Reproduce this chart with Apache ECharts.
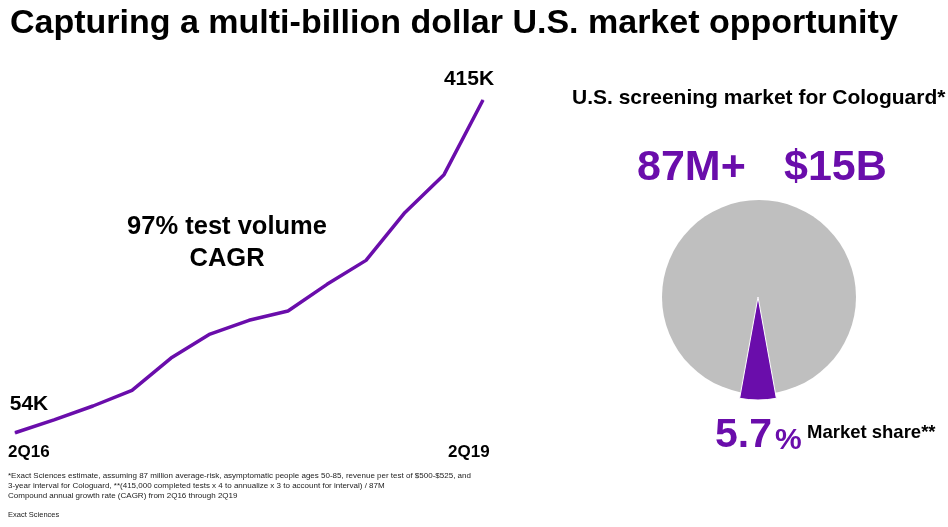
<!DOCTYPE html>
<html><head><meta charset="utf-8">
<script src="https://cdn.jsdelivr.net/npm/echarts@6/dist/echarts.min.js"></script>
<style>html,body{margin:0;padding:0;background:#fff}#c{width:948px;height:527px}</style>
</head><body><div id="c"></div>
<script>
const quarters = ['2Q16','3Q16','4Q16','1Q17','2Q17','3Q17','4Q17','1Q18','2Q18','3Q18','4Q18','1Q19','2Q19'];
const testVolumeK = [54, 68, 83, 100, 135, 161, 176, 186, 215, 241, 293, 334, 415];
const tickLabels = ['2Q16', '2Q19'];
const marketSharePct = 5.7;
const sharePie = [marketSharePct, 100 - marketSharePct];

const PURPLE = '#6a0dab';
const FONT = 'Liberation Sans, Arial, sans-serif';
const chart = echarts.init(document.getElementById('c'));
const lastIdx = testVolumeK.length - 1;

chart.setOption({
  animation: false,
  backgroundColor: '#fff',
  grid: { left: 15, right: 465, top: 100, bottom: 44.5 },
  xAxis: { type: 'category', data: quarters, boundaryGap: false, show: false },
  yAxis: { type: 'value', min: 0, max: 415, show: false },
  series: [
    {
      type: 'line',
      data: testVolumeK.map((v, i) => ({
        value: v,
        label: {
          show: i === 0 || i === lastIdx,
          position: 'top',
          offset: i === 0 ? [14, -13] : [-14, -5],
          formatter: p => p.value + 'K',
          fontFamily: FONT, fontWeight: 'bold', fontSize: 21, color: '#000'
        }
      })),
      symbol: 'circle',
      symbolSize: 1,
      showSymbol: true,
      itemStyle: { color: PURPLE },
      lineStyle: { color: PURPLE, width: 3.5 },
      z: 3
    },
    {
      type: 'pie',
      center: [759, 297],
      radius: [0, 97],
      startAngle: 90,
      silent: true,
      label: { show: false }, labelLine: { show: false },
      data: [{ value: 100, itemStyle: { color: '#bfbfbf' } }],
      z: 1
    },
    {
      type: 'pie',
      center: [758, 297],
      radius: [0, 103],
      startAngle: 270 + sharePie[0] * 3.6 / 2,
      clockwise: true,
      silent: true,
      label: { show: false }, labelLine: { show: false },
      data: [
        { value: sharePie[0], itemStyle: { color: PURPLE, borderColor: '#fff', borderWidth: 1 } },
        { value: sharePie[1], itemStyle: { color: 'rgba(0,0,0,0)' } }
      ],
      z: 2
    }
  ],
  graphic: [
    { type: 'text', left: 10, top: 7, style: { text: 'Capturing a multi-billion dollar U.S. market opportunity', font: 'bold 34px ' + FONT, fill: '#000' } },
    { type: 'text', x: 227, y: 211, style: { text: '97% test volume\nCAGR', font: 'bold 25.5px ' + FONT, fill: '#000', align: 'center', lineHeight: 32 } },
    { type: 'text', x: 8, y: 444, style: { text: tickLabels[0], font: 'bold 17px ' + FONT, fill: '#000' } },
    { type: 'text', x: 448, y: 444, style: { text: tickLabels[1], font: 'bold 17px ' + FONT, fill: '#000' } },
    { type: 'text', x: 572, y: 88, style: { text: 'U.S. screening market for Cologuard*', font: 'bold 21px ' + FONT, fill: '#000' } },
    { type: 'text', x: 637, y: 147, style: { text: '87M+', font: 'bold 43px ' + FONT, fill: PURPLE } },
    { type: 'text', x: 784, y: 147, style: { text: '$15B', font: 'bold 43px ' + FONT, fill: PURPLE } },
    { type: 'text', x: 715, y: 415, style: { text: marketSharePct.toFixed(1), font: 'bold 41px ' + FONT, fill: PURPLE } },
    { type: 'text', x: 775, y: 426, style: { text: '%', font: 'bold 30px ' + FONT, fill: PURPLE } },
    { type: 'text', x: 807, y: 423, style: { text: 'Market share**', font: 'bold 18.5px ' + FONT, fill: '#000' } },
    { type: 'text', x: 8, y: 471, style: { text: '*Exact Sciences estimate, assuming 87 million average-risk, asymptomatic people ages 50-85, revenue per test of $500-$525, and\n3-year interval for Cologuard, **(415,000 completed tests x 4 to annualize x 3 to account for interval) / 87M\nCompound annual growth rate (CAGR) from 2Q16 through 2Q19', font: '8px ' + FONT, fill: '#222', lineHeight: 10.1 } },
    { type: 'text', x: 8, y: 511, style: { text: 'Exact Sciences', font: '7.5px ' + FONT, fill: '#222' } }
  ]
});
</script></body></html>
